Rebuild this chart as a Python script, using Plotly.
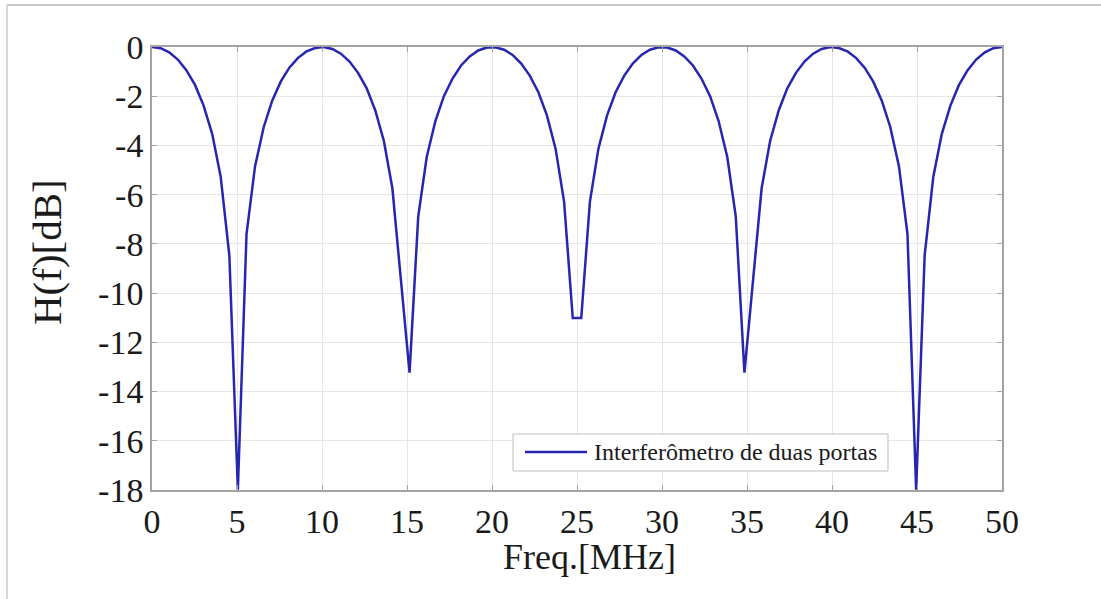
import plotly.graph_objects as go

# Frequency samples [MHz]
freq_mhz = [
    0.00, 0.51, 1.01, 1.52, 2.02, 2.53, 3.03, 3.54, 4.04, 4.55,
    5.05, 5.56, 6.06, 6.57, 7.07, 7.58, 8.08, 8.59, 9.09, 9.60,
    10.10, 10.61, 11.11, 11.62, 12.12, 12.63, 13.13, 13.64, 14.14, 14.65,
    15.15, 15.66, 16.16, 16.67, 17.17, 17.68, 18.18, 18.69, 19.19, 19.70,
    20.20, 20.71, 21.21, 21.72, 22.22, 22.73, 23.23, 23.74, 24.24, 24.75,
    25.25, 25.76, 26.26, 26.77, 27.27, 27.78, 28.28, 28.79, 29.29, 29.80,
    30.30, 30.81, 31.31, 31.82, 32.32, 32.83, 33.33, 33.84, 34.34, 34.85,
    35.35, 35.86, 36.36, 36.87, 37.37, 37.88, 38.38, 38.89, 39.39, 39.90,
    40.40, 40.91, 41.41, 41.92, 42.42, 42.93, 43.43, 43.94, 44.44, 44.95,
    45.45, 45.96, 46.46, 46.97, 47.47, 47.98, 48.48, 48.99, 49.49, 50.00,
]

# Response H(f) [dB]
h_db = [
    0.00, -0.05, -0.22, -0.51, -0.94, -1.54, -2.37, -3.53, -5.27, -8.47,
    -17.99, -7.60, -4.85, -3.26, -2.18, -1.40, -0.84, -0.44, -0.18, -0.04,
    0.00, -0.08, -0.27, -0.59, -1.05, -1.68, -2.57, -3.82, -5.74, -9.55,
    -13.23, -6.89, -4.47, -3.01, -2.00, -1.28, -0.75, -0.38, -0.14, -0.02,
    -0.01, -0.11, -0.32, -0.67, -1.16, -1.84, -2.78, -4.13, -6.28, -11.01,
    -11.01, -6.28, -4.13, -2.78, -1.84, -1.16, -0.67, -0.32, -0.11, -0.01,
    -0.02, -0.14, -0.38, -0.75, -1.28, -2.00, -3.01, -4.47, -6.89, -13.23,
    -9.55, -5.74, -3.82, -2.57, -1.68, -1.05, -0.59, -0.27, -0.08, 0.00,
    -0.04, -0.18, -0.44, -0.84, -1.40, -2.18, -3.26, -4.85, -7.60, -17.99,
    -8.47, -5.27, -3.53, -2.37, -1.54, -0.94, -0.51, -0.22, -0.05, 0.00,
]

x_ticks = [0, 5, 10, 15, 20, 25, 30, 35, 40, 45, 50]
y_ticks = [0, -2, -4, -6, -8, -10, -12, -14, -16, -18]
y_tick_text = ["0", "-2", "-4", "-6", "-8", "-10", "-12", "-14", "-16", "-18"]

series_name = "Interferômetro de duas portas"
x_title = "Freq.[MHz]"
y_title = "H(f)[dB]"

FONT = "Liberation Serif, Times New Roman, serif"
LINE_COLOR = "#2626b0"
AXIS_COLOR = "#a3a3a3"
GRID_COLOR = "#e6e6e6"

fig = go.Figure()
fig.add_trace(go.Scatter(
    x=freq_mhz, y=h_db, mode="lines", name=series_name,
    line=dict(color=LINE_COLOR, width=2.5), showlegend=False,
))

W, H = 1101, 599
L, R, T, B = 152, 99, 47, 109
pw, ph = W - L - R, H - T - B


def px(xp):
    return (xp - L) / pw


def py(yp):
    return (H - B - yp) / ph


axis_common = dict(
    showline=True, linecolor=AXIS_COLOR, linewidth=1.5, mirror="ticks",
    ticks="inside", ticklen=5, tickcolor=AXIS_COLOR, tickwidth=1,
    showgrid=True, gridcolor=GRID_COLOR, gridwidth=1, zeroline=False,
    tickfont=dict(family=FONT, size=34, color="#1a1a1a"),
)

fig.update_xaxes(range=[0, 50], tickvals=x_ticks, **axis_common)
fig.update_yaxes(range=[-18, 0], tickvals=y_ticks, ticktext=y_tick_text,
                 **axis_common)

# Manual legend box
lx0, lx1, ly0, ly1 = 513, 888, 434, 471
shapes = [
    dict(type="rect", xref="paper", yref="paper",
         x0=px(lx0), x1=px(lx1), y0=py(ly1), y1=py(ly0),
         line=dict(color="#bdbdbd", width=1), fillcolor="white", layer="above"),
    dict(type="line", xref="paper", yref="paper",
         x0=px(525), x1=px(587), y0=py(452), y1=py(452),
         line=dict(color=LINE_COLOR, width=2.5), layer="above"),
    # outer frame (top and left)
    dict(type="line", xref="paper", yref="paper",
         x0=px(7), x1=px(1101), y0=py(5), y1=py(5),
         line=dict(color="#c8c8c8", width=2)),
    dict(type="line", xref="paper", yref="paper",
         x0=px(7), x1=px(7), y0=py(5), y1=py(599),
         line=dict(color="#d8d8d8", width=2)),
]

annotations = [
    dict(text=series_name, xref="paper", yref="paper", x=px(592), y=py(452),
         xanchor="left", yanchor="middle", showarrow=False,
         font=dict(family=FONT, size=24, color="#1a1a1a")),
    dict(text=x_title, xref="paper", yref="paper", x=px(589), y=py(557),
         xanchor="center", yanchor="middle", showarrow=False,
         font=dict(family=FONT, size=36, color="#1a1a1a")),
    dict(text=y_title, xref="paper", yref="paper", x=px(47), y=py(252),
         xanchor="center", yanchor="middle", showarrow=False, textangle=-90,
         font=dict(family=FONT, size=41, color="#1a1a1a")),
]

fig.update_layout(
    width=W, height=H,
    margin=dict(l=L, r=R, t=T, b=B, autoexpand=False),
    paper_bgcolor="white", plot_bgcolor="white",
    shapes=shapes, annotations=annotations,
    showlegend=False,
    font=dict(family=FONT),
)

fig.write_html("out.html")
